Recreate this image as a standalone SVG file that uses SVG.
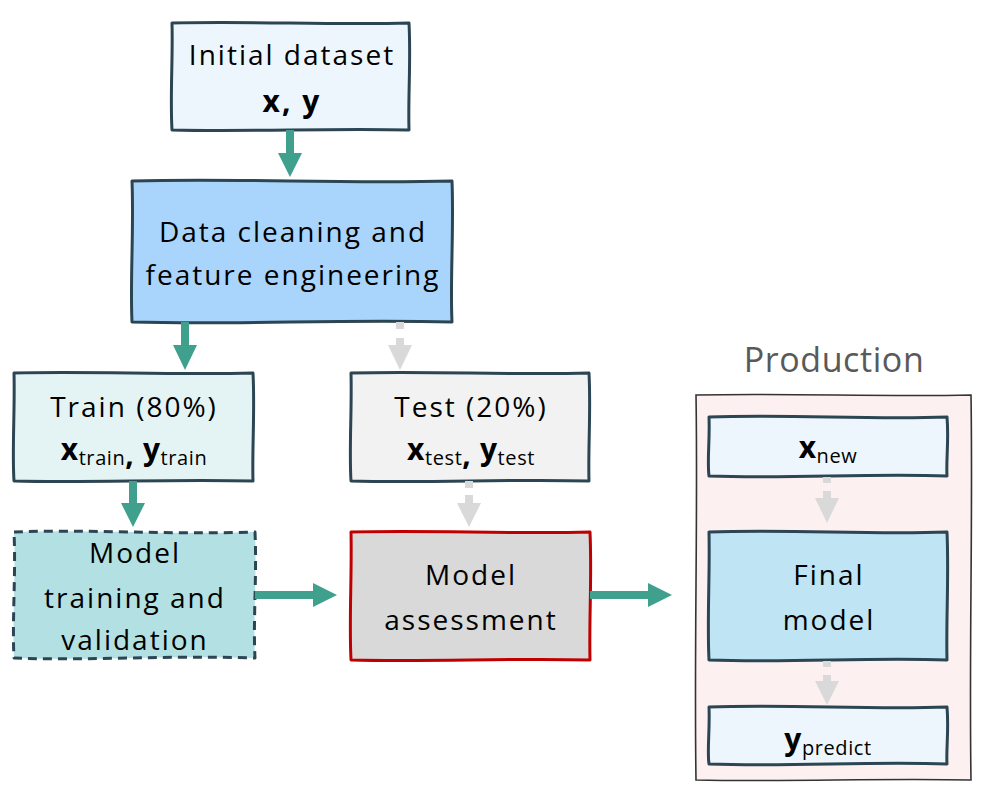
<svg xmlns="http://www.w3.org/2000/svg" width="1001" height="786" viewBox="0 0 1001 786">
<style>
.t{font-family:"Open Sans",Lato,"Liberation Sans",sans-serif;font-size:28px;fill:#000;text-anchor:middle;letter-spacing:2px}
.s{letter-spacing:0.6px}
.b{stroke:#2b4553;stroke-width:3;stroke-linejoin:round}
.teal{fill:#40a08e}
.gray{fill:#d9d9d9}
.bold{font-weight:bold;font-size:30px}
.sub{font-size:20px;font-weight:normal}
</style>
<rect width="1001" height="786" fill="#fff"/>
<g id="initial">
<path class="b" fill="#eef6fd" d="M172,23 C250,21 330,25 409,23 C411,60 408,95 409,130 C330,128 250,132 172,130 C170,95 173,60 172,23 Z"/>
<text class="t" x="292" y="65">Initial dataset</text>
<text class="t bold" x="292" y="112">x, y</text>
</g>
<g id="cleaning">
<path class="b" fill="#a9d4fc" d="M132,181 C240,178 340,184 452,181 C454,230 450,280 452,322 C340,319 240,325 132,322 C130,280 134,230 132,181 Z"/>
<text class="t" x="293" y="242">Data cleaning and</text>
<text class="t" x="293" y="285">feature engineering</text>
</g>
<g id="train">
<path class="b" fill="#e4f4f5" d="M14,373 C90,371 170,375 253,373 C255,410 252,450 253,481 C170,479 90,483 14,481 C12,450 15,410 14,373 Z"/>
<text class="t" x="134" y="417">Train (80%)</text>
<text class="t s" x="134" y="460"><tspan class="bold">x</tspan><tspan class="sub" dy="5">train</tspan><tspan class="bold">,</tspan><tspan class="bold" dy="-5"> y</tspan><tspan class="sub" dy="5">train</tspan></text>
</g>
<g id="test">
<path class="b" fill="#f2f2f2" d="M351,373 C430,371 510,375 589,373 C591,410 588,450 589,481 C510,479 430,483 351,481 C349,450 352,410 351,373 Z"/>
<text class="t" x="471" y="417">Test (20%)</text>
<text class="t s" x="471" y="460"><tspan class="bold">x</tspan><tspan class="sub" dy="5">test</tspan><tspan class="bold">,</tspan><tspan class="bold" dy="-5"> y</tspan><tspan class="sub" dy="5">test</tspan></text>
</g>
<g id="training">
<path class="b" fill="#b3e1e3" stroke-dasharray="9,6" d="M14,532 C90,529 170,535 255,532 C257,575 253,620 255,658 C170,655 90,661 14,658 C12,620 16,575 14,532 Z"/>
<text class="t" x="135" y="563">Model</text>
<text class="t" x="135" y="608">training and</text>
<text class="t" x="135" y="650">validation</text>
</g>
<g id="assessment">
<path fill="#d9d9d9" stroke="#c00000" stroke-width="3" stroke-linejoin="round" d="M351,532 C430,530 510,534 590,532 C592,575 589,620 590,660 C510,658 430,662 351,660 C349,620 352,575 351,532 Z"/>
<text class="t" x="471" y="585">Model</text>
<text class="t" x="471" y="630">assessment</text>
</g>
<g id="production">
<text class="t" x="834" y="372" style="font-size:34px;fill:#595959;letter-spacing:0.6px">Production</text>
<path fill="#fdf0f0" stroke="#333" stroke-width="1.6" d="M696,395 C790,393 880,397 971,395 C973,520 969,650 971,780 C880,778 790,782 696,780 C694,650 698,520 696,395 Z"/>
</g>
<g id="xnew">
<path class="b" fill="#eef6fd" d="M709,417 C790,414 870,420 947,417 C949,440 946,460 947,476 C870,473 790,479 709,476 C707,460 710,440 709,417 Z"/>
<text class="t s" x="828" y="458"><tspan class="bold">x</tspan><tspan class="sub" dy="5">new</tspan></text>
</g>
<g id="final">
<path class="b" fill="#bfe4f4" d="M709,532 C790,529 870,535 947,532 C949,575 946,620 947,660 C870,657 790,663 709,660 C707,620 710,575 709,532 Z"/>
<text class="t" x="829" y="585">Final</text>
<text class="t" x="829" y="630">model</text>
</g>
<g id="ypredict">
<path class="b" fill="#eef6fd" d="M709,707 C790,704 870,710 947,707 C949,730 946,750 947,764 C870,761 790,767 709,764 C707,750 710,730 709,707 Z"/>
<text class="t s" x="828" y="750"><tspan class="bold">y</tspan><tspan class="sub" dy="5">predict</tspan></text>
</g>
<g id="connectors">
<polygon class="teal" points="286,130 294,130 294,153 302,153 290,177 278,153 286,153"/>
<polygon class="teal" points="181,322 189,322 189,345 197,345 185,370 173,345 181,345"/>
<polygon class="teal" points="129,481 137,481 137,503 145,503 133,527 121,503 129,503"/>
<polygon class="teal" points="255,591 255,599 313,599 313,607 337,595 313,583 313,591"/>
<polygon class="teal" points="590,591 590,599 648,599 648,607 672,595 648,583 648,591"/>
<g class="gray">
<rect x="396" y="322" width="8" height="7"/>
<polygon points="396,338 404,338 404,345 412,345 400,370 388,345 396,345"/>
<rect x="465" y="481" width="8" height="7"/>
<polygon points="465,495 473,495 473,503 481,503 469,527 457,503 465,503"/>
<rect x="823" y="477" width="8" height="6"/>
<polygon points="823,491 831,491 831,498 839,498 827,523 815,498 823,498"/>
<rect x="823" y="661" width="8" height="6"/>
<polygon points="823,675 831,675 831,681 839,681 827,705 815,681 823,681"/>
</g>
</g>
</svg>
